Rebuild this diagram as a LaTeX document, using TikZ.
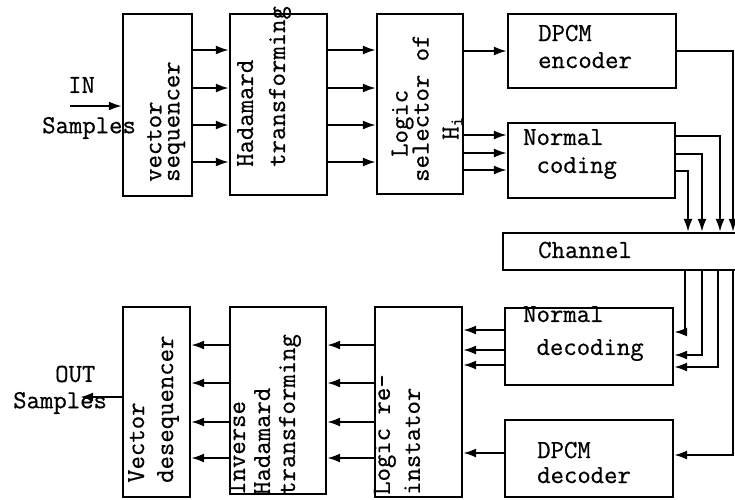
\documentclass[tikz,border=0pt]{standalone}
\usepackage{fontspec}
\setmonofont{Latin Modern Mono}[FakeBold=0.6]
\usetikzlibrary{arrows.meta, positioning}

\begin{document}
\begin{tikzpicture}[
        x=1pt, y=-1pt,
        box/.style={rectangle, draw, line width=2.2pt, inner sep=0pt},
        vlabel/.style={rotate=90, align=left, inner sep=0pt, anchor=west,
                       font=\ttfamily\fontsize{26}{#1}\selectfont},
        hlabel/.style={align=left, inner sep=0pt, anchor=west,
                       font=\ttfamily\fontsize{26}{#1}\selectfont},
        arrow/.style={-{Latex[length=13pt, width=9pt]}, line width=2.2pt},
    ]
        \useasboundingbox (0,0) rectangle (735,499);

        % transmitter
        \node[box, minimum width=69pt, minimum height=182pt] (vseq) at (157.5,105) {};
        \node[box, minimum width=97pt, minimum height=181pt] (had) at (278.5,104.5) {};
        \node[box, minimum width=86pt, minimum height=180pt] (logsel) at (420,104) {};
        \node[box, minimum width=168pt, minimum height=74pt] (enc) at (592,51) {};
        \node[box, minimum width=167pt, minimum height=75pt] (ncod) at (591.5,160.5) {};
        \node[box, minimum width=242pt, minimum height=37pt] (chan) at (624,251.5) {};

        % receiver
        \node[box, minimum width=67pt, minimum height=190pt] (vdes) at (156.5,402) {};
        \node[box, minimum width=96pt, minimum height=187pt] (ihad) at (278,400.5) {};
        \node[box, minimum width=87pt, minimum height=190pt] (lrei) at (418.5,402) {};
        \node[box, minimum width=168pt, minimum height=77pt] (ndec) at (589,346.5) {};
        \node[box, minimum width=168pt, minimum height=77pt] (ddec) at (589,458.5) {};

        % texts
        \node[vlabel=18pt] at (166,182) {vector\\sequencer};
        \node[vlabel=32pt] at (264,167) {Hadamard\\transforming};
        \node[vlabel=30pt] at (427,182) {\hspace*{25pt}Logic\\[-9pt]selector of\\\hspace*{42pt}H\textsubscript{i}};
        \node[hlabel=27pt] at (538,46.5) {DPCM\\encoder};
        \node[hlabel=28pt] at (523,154) {Normal\\\phantom{N}coding};
        \node[hlabel=28pt] at (538,250) {Channel};
        \node[vlabel=29pt] at (153.5,483) {Vector\\desequencer};
        \node[vlabel=25pt] at (265,495) {Inverse\\Hadamard\\transforming};
        \node[vlabel=30pt] at (397,495) {Logic re-\\instator};
        \node[hlabel=33pt] at (523,333.5) {Normal\\\phantom{N}decoding};
        \node[hlabel=25pt] at (537,462.5) {DPCM\\decoder};
        \node[hlabel=28pt] (inlbl) at (68,85) {IN};
        \node[hlabel=28pt] (insmp) at (42,128) {Samples};
        \node[hlabel=28pt] (outlbl) at (55,374) {OUT};
        \node[hlabel=28pt] (outsmp) at (13,403) {Samples};

        % forward path
        \coordinate (in) at (70,106);
        \draw[arrow] (in) -- (vseq.west |- in);
        \foreach \y in {50,88,125,162} {
            \draw[arrow] (vseq.east |- 0,\y) -- (had.west |- 0,\y);
            \draw[arrow] (had.east |- 0,\y) -- (logsel.west |- 0,\y);
        }
        \draw[arrow] (logsel.east |- enc.west) -- (enc.west);
        \foreach \y in {135,153,170}
            \draw[arrow] (logsel.east |- 0,\y) -- (ncod.west |- 0,\y);
        \foreach \y/\x in {136/720,154/702,171/688}
            \draw[arrow] (ncod.east |- 0,\y) -| (chan.north -| \x,0);
        \draw[arrow] (enc.east) -| (chan.north -| 733,0);

        % return path
        \foreach \x/\y in {685/332,702/355,718/367}
            \draw[arrow] (chan.south -| \x,0) |- (ndec.east |- 0,\y);
        \draw[arrow] (chan.south -| 733,0) |- (ddec.east |- 0,455);
        \foreach \y in {330,350,365}
            \draw[arrow] (ndec.west |- 0,\y) -- (lrei.east |- 0,\y);
        \draw[arrow] (ddec.west |- 0,453) -- (lrei.east |- 0,453);
        \foreach \y in {345,383,422,458} {
            \draw[arrow] (lrei.west |- 0,\y) -- (ihad.east |- 0,\y);
            \draw[arrow] (ihad.west |- 0,\y) -- (vdes.east |- 0,\y);
        }
        \coordinate (out) at (80,397);
        \draw[arrow] (vdes.west |- out) -- (out);
    \end{tikzpicture}
\end{document}
